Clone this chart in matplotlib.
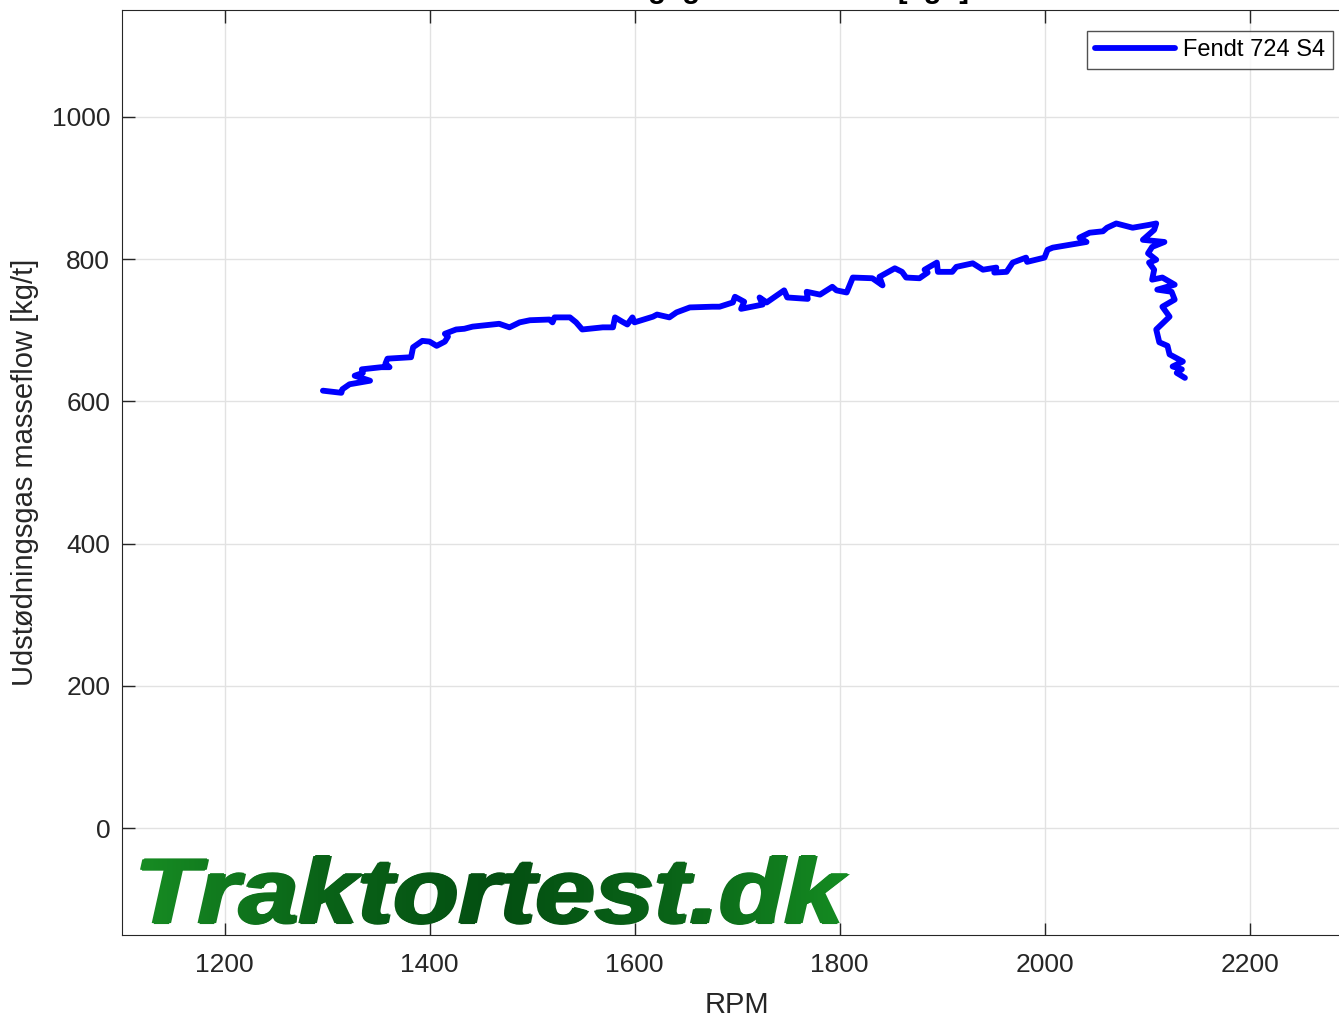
import matplotlib
matplotlib.use("Agg")
import matplotlib.pyplot as plt
import numpy as np
from matplotlib.textpath import TextPath
from matplotlib.patches import PathPatch
from matplotlib.font_manager import FontProperties
from matplotlib.colors import LinearSegmentedColormap
from matplotlib.transforms import Affine2D

plt.rcParams['font.family'] = ['Liberation Sans', 'DejaVu Sans']

# traced curve: engine speed vs exhaust mass flow
rpm = [1296, 1314, 1315, 1322, 1342, 1327, 1335, 1334, 1353, 1361, 1357, 1359,
       1382, 1384, 1393, 1400, 1407, 1415, 1418, 1415, 1426, 1434, 1442, 1468,
       1478, 1488, 1498, 1517, 1520, 1522, 1537, 1543, 1549, 1569, 1579, 1581,
       1588, 1593, 1598, 1600, 1618, 1622, 1634, 1641, 1654, 1676, 1683, 1696,
       1698, 1707, 1704, 1725, 1722, 1729, 1746, 1749, 1769, 1768, 1781, 1793,
       1797, 1807, 1813, 1832, 1842, 1839, 1854, 1861, 1865, 1878, 1886, 1883,
       1895, 1896, 1910, 1914, 1930, 1940, 1953, 1951, 1963, 1969, 1982, 1983,
       2000, 2003, 2008, 2041, 2034, 2044, 2057, 2061, 2070, 2086, 2102, 2109,
       2107, 2096, 2117, 2105, 2101, 2109, 2102, 2107, 2105, 2115, 2127, 2110,
       2124, 2127, 2115, 2122, 2109, 2112, 2120, 2122, 2135, 2125, 2134, 2129,
       2137]
flow = [615, 612, 617, 624, 629, 636, 640, 645, 648, 648, 653, 660,
        662, 676, 685, 684, 678, 684, 691, 695, 701, 702, 705, 709,
        704, 711, 714, 715, 711, 718, 718, 711, 701, 704, 704, 718,
        712, 708, 718, 711, 719, 722, 718, 725, 732, 733, 733, 739,
        747, 740, 730, 736, 746, 739, 756, 746, 744, 754, 750, 761,
        756, 753, 774, 773, 763, 775, 787, 782, 774, 773, 781, 785,
        795, 782, 782, 789, 794, 785, 788, 781, 782, 795, 802, 796,
        802, 813, 816, 824, 830, 837, 839, 844, 850, 844, 848, 850,
        841, 827, 824, 817, 808, 799, 795, 785, 771, 774, 764, 757,
        754, 743, 733, 719, 701, 683, 678, 666, 656, 649, 645, 640,
        633]

xticks = [1200, 1400, 1600, 1800, 2000, 2200]
yticks = [0, 200, 400, 600, 800, 1000]

W, H = 1339, 1018
fig = plt.figure(figsize=(W / 100, H / 100), dpi=100)
ax_l, ax_r = 122, 1352
ax = fig.add_axes([ax_l / W, 1 - 935 / H, (ax_r - ax_l) / W, (935 - 10) / H])

ax.plot(rpm, flow, color=(0, 0, 1), lw=4.2, solid_joinstyle='round',
        solid_capstyle='round', label='Fendt 724 S4')
ax.set_xlim(1100, 2300)
ax.set_ylim(-150, 1150)
ax.set_xticks(xticks)
ax.set_yticks(yticks)
ax.grid(True, color='#e2e2e2', lw=1)
ax.set_axisbelow(True)
ax.tick_params(direction='in', length=9, width=1, colors='#262626',
               labelsize=19, top=True)
ax.tick_params(axis='x', pad=13)
ax.tick_params(axis='y', pad=8.5)
for s in ax.spines.values():
    s.set_color('#262626')
ax.set_xlabel('RPM', fontsize=21, color='#262626', labelpad=10)
ax.set_ylabel('Udstødningsgas masseflow [kg/t]', fontsize=21, color='#262626', labelpad=9)
# title sits above the visible area, only descenders show
fig.text((ax_l + ax_r) / 2 / W, 1 + 2 / H, 'Udstødningsgas masseflow [kg/t]',
         fontsize=21, fontweight='bold', ha='center', va='baseline')

leg = ax.legend(loc='upper right', bbox_to_anchor=(1333 / W, 1 - 31 / H),
                bbox_transform=fig.transFigure, fontsize=17, frameon=True,
                fancybox=False, edgecolor='#262626', handlelength=3.4,
                handletextpad=0.35, borderpad=0.33, borderaxespad=0)
leg.get_frame().set_linewidth(1.0)

# watermark with horizontal green gradient
ov = fig.add_axes([0, 0, 1, 1], zorder=5)
ov.set_xlim(0, W)
ov.set_ylim(0, H)
ov.axis('off')
fp = FontProperties(family='Liberation Sans', weight='bold', style='italic')
tp = TextPath((0, 0), 'Traktortest.dk', size=100, prop=fp)
ext = tp.get_extents()
x0, x1, y0, y1 = 142, 848, H - 924, H - 856
tr = Affine2D().translate(-ext.x0, -ext.y0).scale((x1 - x0) / ext.width,
                                                   (y1 - y0) / ext.height).translate(x0, y0)
base = tr.transform_path(tp)
cmap = LinearSegmentedColormap.from_list('wm', ['#178c23', '#0a6418', '#044f12',
                                               '#0a6418', '#158c22'])
grad = np.linspace(0, 1, 256).reshape(1, -1)
# shifted copies make the strokes heavier
for dx, dy in [(-2, 0), (-1, 0), (0, 0), (1, 0), (2, 0), (0, 1), (0, -1)]:
    p = PathPatch(Affine2D().translate(dx, dy).transform_path(base),
                  facecolor='none', edgecolor='none')
    ov.add_patch(p)
    im = ov.imshow(grad, cmap=cmap, extent=[x0 - 3, x1 + 3, y0 - 2, y1 + 2],
                   aspect='auto')
    im.set_clip_path(p)

fig.savefig('out.png', dpi=100)
